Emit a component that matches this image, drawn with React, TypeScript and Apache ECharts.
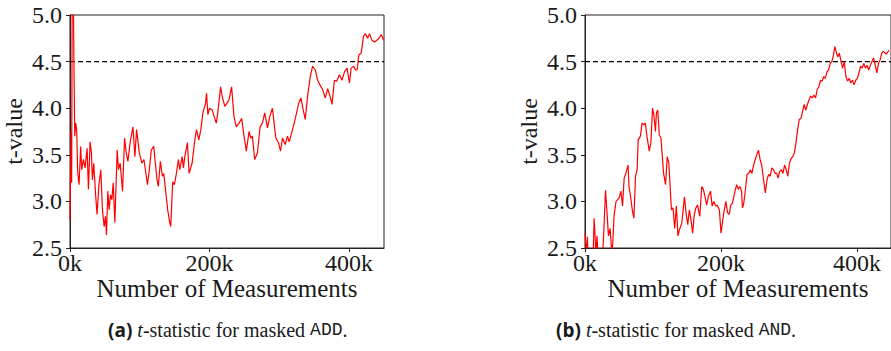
import React, { useEffect, useRef } from "react";
import * as echarts from "echarts";

// x in thousands of measurements, y = t-value
const addMeasurementsK: number[] = [
  0, 1.4, 2.4, 3.2, 4.6, 5.6, 6.8, 8.2, 9.6, 11, 13, 15.3, 16.8, 19.2, 21.6, 24.5, 26.4, 28.8, 30.7, 32.1,
  34, 36.9, 38.8, 41.2, 44.1, 46.5, 48.9, 50.8, 52.3, 54.2, 56.1, 58, 60, 61.9, 64.3, 67.6, 69.5, 71.9, 75.3,
  78.2, 80.6, 83, 86.3, 90.2, 93, 95.4, 99.3, 103, 106, 108, 111, 113.7, 116.5, 120, 124.7, 126.6, 129.5,
  132.4, 134.3, 136.7, 140, 143, 144.4, 147.2, 149.6, 152.5, 155.4, 157.3, 160.7, 162.6, 164.5, 168.3, 170.7,
  175, 178.4, 181.3, 184.6, 187.5, 190.4, 194.2, 195.7, 197.6, 200, 203.8, 209.6, 212, 215.8, 218.2, 222,
  227.8, 231.6, 235, 238.3, 242.2, 246, 249.4, 252.7, 256.6, 259, 261.4, 264.7, 268.6, 272.4, 275.8, 279.1,
  283, 286.3, 290.1, 292.5, 295, 298.8, 301.7, 304.5, 308.4, 311.7, 314.1, 317.5, 321.3, 324.7, 327.6, 330.9,
  334.3, 337.1, 340.5, 344.3, 347.7, 351.5, 354.9, 358.2, 362.1, 365.9, 369.3, 372.6, 375.5, 378.9, 382.2,
  386.1, 389.9, 393.3, 397.1, 400.5, 402.9, 406.7, 409.1, 411.5, 413.9, 417.2, 420.6, 423.5, 426.4, 429.2,
  432.6, 436.4, 439.8, 442.7, 446, 449.4,
];
const addTValues: number[] = [
  2.8, 3.75, 3.2, 5.4, 5.4, 4.5, 3.7, 3.84, 3.77, 3.32, 3.18, 3.59, 3.34, 3.45, 3.36, 3.57, 3.13, 3.64, 3.52, 3.23,
  3.41, 3.05, 2.86, 3.16, 3.34, 2.91, 2.73, 2.84, 2.64, 3.11, 2.91, 3.07, 3.02, 3.2, 2.77, 3.55, 3.34, 3.41, 3.11,
  3.68, 3.52, 3.43, 3.64, 3.8, 3.48, 3.77, 3.52, 3.41, 3.45, 3.34, 3.18, 3.34, 3.55, 3.59, 3.23, 3.16, 3.43,
  3.27, 3.3, 3.14, 2.91, 2.77, 2.73, 3.21, 3.18, 3.3, 3.45, 3.34, 3.48, 3.36, 3.48, 3.63, 3.3,
  3.41, 3.63, 3.77, 3.66, 3.77, 3.95, 4.05, 4.16, 3.93, 4.0, 3.98, 3.84, 3.96, 4.23, 4.12, 4.02,
  4.09, 4.23, 3.91, 3.8, 3.84, 3.89, 3.7, 3.54, 3.75, 3.68, 3.7, 3.45, 3.52, 3.8, 3.84, 3.95,
  3.79, 3.91, 4.0, 3.84, 3.68, 3.63, 3.54, 3.68, 3.61, 3.7, 3.64, 3.73, 3.84, 3.95, 4.05, 4.11,
  3.98, 3.88, 4.13, 4.34, 4.45, 4.41, 4.3, 4.25, 4.2, 4.11, 4.21, 4.13, 4.04, 4.3, 4.29,
  4.36, 4.3, 4.39, 4.43, 4.27, 4.43, 4.45, 4.41, 4.41, 4.57, 4.59, 4.77, 4.8, 4.75, 4.8,
  4.73, 4.71, 4.73, 4.75, 4.79, 4.73,
];

const andMeasurementsK: number[] = [
  0, 1.0, 2.4, 3.4, 4.8, 7.2, 9.6, 12, 13.4, 14.9, 15.8, 17.7, 19.2, 21.6, 24, 25.4, 27.3, 30.2, 32.1, 34.5,
  36.9, 39.3, 40.8, 42.7, 45.6, 48, 50.4, 52.8, 55.2, 57.6, 60, 63.3, 64.7, 67.1, 69.5, 71.9, 74.3, 76.7, 78.2,
  81.5, 83.9, 86.3, 88.7, 91.1, 94.5, 96.9, 99.3, 101.2, 103.6, 105, 107, 109.3, 111.7, 113.7, 115.6, 118.5,
  120.9, 123.3, 125.2, 127.1, 129.5, 131.9, 134.3, 136.7, 139.1, 142.4, 146.3, 148.7, 151.1, 153.5, 155.9,
  158.3, 160.7, 163.1, 165.5, 168.8, 171.7, 174.1, 176.5, 178.9, 181.3, 184.6, 187, 189.4, 192.3, 194.2,
  197.6, 200, 202.4, 204.8, 207.2, 209.6, 212, 214.4, 216.8, 220.6, 223, 225.4, 227.8, 230.2, 231.6, 233.5,
  236, 238.3, 240.7, 243.1, 245.5, 247.9, 250.3, 252.7, 255.1, 257.5, 259.9, 262.3, 265.2, 267.6, 270,
  272.4, 274.8, 277.2, 279.6, 282, 283.9, 286.3, 288.7, 291.1, 293.5, 295.9, 298.3, 300.7, 303.1, 305.5,
  307.9, 310.3, 312.7, 315.1, 317.5, 319.9, 322.3, 324.7, 327.1, 329.5, 331.9, 334.3, 336.7, 339.1, 341.5,
  343.9, 346.3, 348.7, 351.1, 353.4, 355.8, 358.2, 360.6, 363, 365.4, 367.4, 369.3, 371.7, 374.1, 376.5,
  378.9, 381.3, 383.7, 386.1, 388.5, 390.9, 393.3, 395.7, 398.1, 400.5, 402.9, 405.2, 407.6, 410, 412.4,
  414.8, 417.2, 419.6, 422, 424.4, 426.8, 429.2, 431.6, 434, 436.4, 438.8, 443, 447,
];
const andTValues: number[] = [
  2.66, 2.66, 2.42, 2.62, 2.4, 2.3, 2.35, 2.42, 2.82, 2.62, 2.4, 2.63, 2.42, 2.3, 2.25, 2.35, 2.62, 3.12, 2.91, 2.63,
  2.71, 2.45, 2.55, 2.84, 3.0, 3.02, 3.04, 3.11, 2.95, 3.25, 3.3, 3.39, 3.16, 3.05, 2.91, 2.82, 3.27, 3.34, 3.66,
  3.7, 3.84, 3.82, 3.84, 3.7, 3.54, 3.63, 4.0, 3.93, 3.75, 3.95, 3.98, 3.71, 3.68, 3.48, 3.3, 3.18,
  3.48, 3.41, 3.16, 2.91, 2.93, 2.71, 2.95, 2.63, 2.7, 2.77, 3.05, 2.87, 2.75, 2.91, 2.8,
  2.66, 2.86, 2.93, 2.96, 2.84, 3.16, 3.13, 3.05, 2.96, 3.05, 3.11, 2.95, 3.0, 2.95, 2.96,
  2.91, 2.66, 2.79, 2.91, 3.0, 2.88, 2.86, 2.96, 2.98, 3.11, 3.18, 3.13, 3.16, 3.11, 2.93, 2.98,
  3.13, 3.29, 3.3, 3.34, 3.3, 3.39, 3.45, 3.5, 3.55, 3.45, 3.39, 3.25, 3.09, 3.23, 3.29,
  3.27, 3.36, 3.34, 3.3, 3.3, 3.25, 3.32, 3.34, 3.3, 3.39, 3.34, 3.27, 3.41, 3.46, 3.48,
  3.52, 3.63, 3.77, 3.88, 3.89, 3.96, 4.04, 3.98, 4.04, 4.09, 4.13, 4.11, 4.14, 4.11, 4.2,
  4.23, 4.3, 4.29, 4.34, 4.32, 4.39, 4.41, 4.48, 4.5, 4.57, 4.66, 4.61, 4.55, 4.59, 4.5,
  4.43, 4.5, 4.34, 4.29, 4.32, 4.27, 4.3, 4.25, 4.3, 4.32, 4.38, 4.45, 4.43, 4.48, 4.43,
  4.46, 4.41, 4.46, 4.5, 4.54, 4.46, 4.38, 4.48, 4.52, 4.59, 4.61, 4.58, 4.62,
];

const xTickValues: number[] = [0, 200000, 400000];
const threshold = 4.5;
const xMax = 450000;

const SERIF = "Liberation Serif";
const TXT = "#1a1a1a";

function pairs(xsK: number[], ys: number[]) {
  return xsK.map((x, i) => [x * 1000, ys[i]]);
}

function makeX(gridIndex: number) {
  return {
    type: "value",
    gridIndex,
    min: 0,
    max: xMax,
    splitLine: { show: false },
    axisLine: { show: true, onZero: false, lineStyle: { color: "#222", width: 1 } },
    axisTick: { show: true, length: 4, customValues: xTickValues, lineStyle: { color: "#222", width: 1 } },
    axisLabel: {
      customValues: xTickValues,
      formatter: (v: number) => `${Math.round(v / 1000)}k`,
      fontFamily: SERIF,
      fontSize: 24,
      lineHeight: 24,
      color: TXT,
      margin: 3,
    },
    name: "Number of Measurements",
    nameLocation: "middle",
    nameGap: 28,
    nameMoveOverlap: false,
    nameTextStyle: { fontFamily: SERIF, fontSize: 25, lineHeight: 25, color: TXT },
  };
}

function makeY(gridIndex: number) {
  return {
    type: "value",
    gridIndex,
    min: 2.5,
    max: 5,
    interval: 0.5,
    splitLine: { show: false },
    axisLine: { show: true, lineStyle: { color: "#222", width: 1 } },
    axisTick: { show: true, length: 4, lineStyle: { color: "#222", width: 1 } },
    axisLabel: {
      formatter: (v: number) => v.toFixed(1),
      fontFamily: SERIF,
      fontSize: 24,
      color: TXT,
      margin: 8,
    },
    name: "t-value",
    nameLocation: "middle",
    nameGap: 44,
    nameMoveOverlap: false,
    nameTextStyle: { fontFamily: SERIF, fontSize: 24, color: TXT },
  };
}

function caption(left: number, label: string, op: string) {
  return {
    left,
    top: 320,
    padding: 0,
    text: `{b|(${label})} {i|t}{r|-statistic for masked }{m|${op}}{r|.}`,
    textStyle: {
      fontFamily: SERIF,
      fontSize: 20,
      fontWeight: "normal",
      color: TXT,
      rich: {
        b: { fontFamily: "Open Sans", fontWeight: "bold", fontSize: 19, color: TXT },
        i: { fontFamily: SERIF, fontStyle: "italic", fontSize: 20, color: TXT },
        r: { fontFamily: SERIF, fontSize: 20, color: TXT },
        m: { fontFamily: "Liberation Mono", fontSize: 18, color: TXT },
      },
    },
  };
}

export default function App() {
  const ref = useRef<HTMLDivElement>(null);
  useEffect(() => {
    if (!ref.current) return;
    const chart = echarts.init(ref.current, undefined, { renderer: "svg" });
    const thresholdLine = [
      [0, threshold],
      [xMax, threshold],
    ];
    chart.setOption({
      animation: false,
      backgroundColor: "#ffffff",
      title: [caption(108, "a", "ADD"), caption(556, "b", "AND")],
      grid: [
        { left: 70, top: 15, width: 314, height: 233, show: true, borderColor: "#222", borderWidth: 1 },
        { left: 585, top: 15, width: 314, height: 233, show: true, borderColor: "#222", borderWidth: 1 },
      ],
      xAxis: [makeX(0), makeX(1)],
      yAxis: [makeY(0), makeY(1)],
      series: [
        {
          type: "line",
          xAxisIndex: 0,
          yAxisIndex: 0,
          data: thresholdLine,
          showSymbol: false,
          lineStyle: { color: "#000", width: 1.2, type: [5, 3] },
          silent: true,
        },
        {
          type: "line",
          xAxisIndex: 0,
          yAxisIndex: 0,
          data: pairs(addMeasurementsK, addTValues),
          showSymbol: false,
          clip: true,
          lineStyle: { color: "#ff0000", width: 1.2 },
        },
        {
          type: "line",
          xAxisIndex: 1,
          yAxisIndex: 1,
          data: thresholdLine,
          showSymbol: false,
          lineStyle: { color: "#000", width: 1.2, type: [5, 3] },
          silent: true,
        },
        {
          type: "line",
          xAxisIndex: 1,
          yAxisIndex: 1,
          data: pairs(andMeasurementsK, andTValues),
          showSymbol: false,
          clip: true,
          lineStyle: { color: "#ff0000", width: 1.2 },
        },
      ],
    });
    return () => chart.dispose();
  }, []);
  return (
    <div
      style={{
        position: "fixed",
        left: 0,
        top: 0,
        width: 891,
        height: 351,
        overflow: "hidden",
        background: "#fff",
      }}
    >
      <div ref={ref} style={{ width: 891, height: 351 }} />
    </div>
  );
}
